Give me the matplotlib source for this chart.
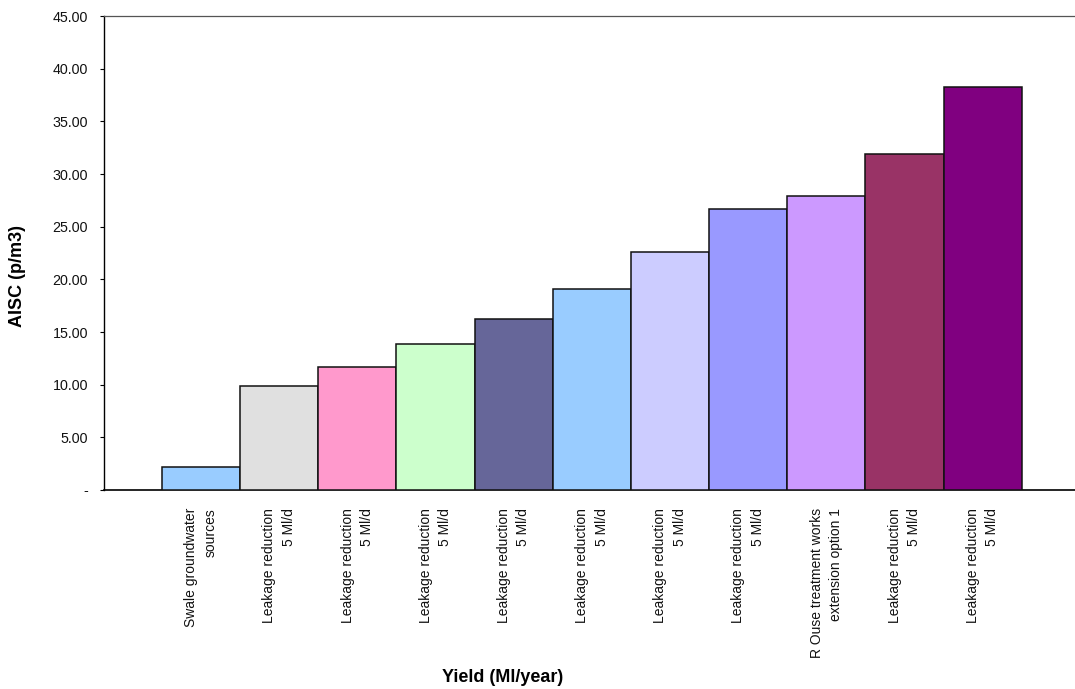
import numpy as np
import matplotlib
matplotlib.use("Agg")
import matplotlib.pyplot as plt

plt.rcParams['font.family'] = ['Liberation Sans', 'DejaVu Sans']

# options in order of increasing cost
options = [
    "Swale groundwater\nsources",
    "Leakage reduction\n5 Ml/d",
    "Leakage reduction\n5 Ml/d",
    "Leakage reduction\n5 Ml/d",
    "Leakage reduction\n5 Ml/d",
    "Leakage reduction\n5 Ml/d",
    "Leakage reduction\n5 Ml/d",
    "Leakage reduction\n5 Ml/d",
    "R Ouse treatment works\nextension option 1",
    "Leakage reduction\n5 Ml/d",
    "Leakage reduction\n5 Ml/d",
]
aisc = [2.21, 9.90, 11.71, 13.86, 16.23, 19.10, 22.55, 26.68, 27.94, 31.90, 38.29]
colors = ["#99CCFF", "#E0E0E0", "#FF99CC", "#CCFFCC", "#666699", "#99CCFF",
          "#CCCCFF", "#9999FF", "#CC99FF", "#993366", "#800080"]

y_ticks = np.arange(0, 46, 5)

fig = plt.figure(figsize=(10.75, 6.89), dpi=100)
ax = fig.add_axes([104 / 1075, 1 - 490 / 689, 1 - 104 / 1075, (490 - 16) / 689])

x = np.arange(len(aisc))
ax.bar(x, aisc, width=1.0, color=colors, edgecolor="#111111", linewidth=1.1, zorder=3)

ax.set_xlim(-1.24, 11.18)
ax.set_ylim(0, 45)

ax.set_yticks(y_ticks)
ax.set_yticklabels(["-" if v == 0 else f"{v:.2f}" for v in y_ticks], fontsize=10.3, color="#111111")
ax.tick_params(axis="y", direction="out", length=3, width=0.8, pad=8.5)

ax.set_xticks(x)
ax.set_xticklabels(options, rotation=90, ha="center", va="top", multialignment="right",
                   linespacing=1.5, fontsize=10, color="#111111")
ax.tick_params(axis="x", length=0, pad=13)

ax.spines["right"].set_visible(False)
ax.spines["top"].set_color("#555555")
ax.spines["top"].set_linewidth(0.9)
ax.spines["left"].set_linewidth(1.0)
ax.spines["bottom"].set_linewidth(1.2)

fig.text(18 / 1075, 1 - 276 / 689, "AISC (p/m3)", rotation=90, ha="center", va="center",
         fontsize=13, fontweight="bold")
fig.text(503 / 1075, 1 - 677 / 689, "Yield (Ml/year)", ha="center", va="center",
         fontsize=13, fontweight="bold")

fig.savefig("out.png", dpi=100)
